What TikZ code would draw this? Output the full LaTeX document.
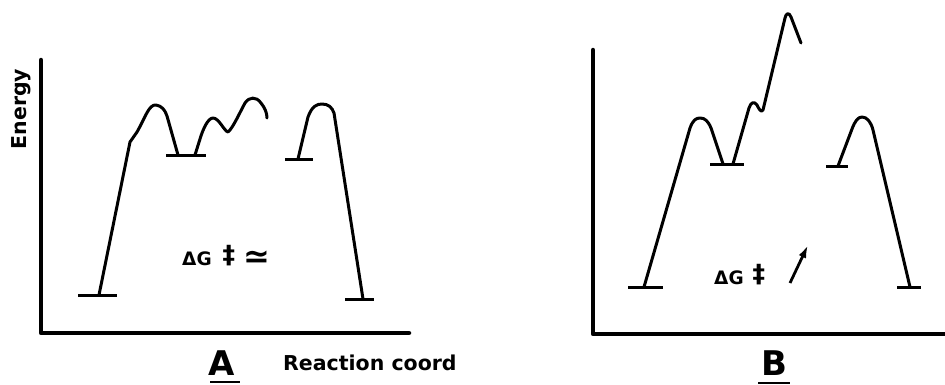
\documentclass[tikz,border=0pt]{standalone}
\usepackage{fontspec}
\setmainfont{DejaVu Sans}
\usetikzlibrary{arrows.meta}
\tikzset{
  axis/.style={line width=4.5pt, line join=round, line cap=round},
  curve/.style={line width=3pt, line join=round, line cap=round},
  level/.style={line width=3pt},
  lbl/.style={inner sep=0pt, font=\bfseries\fontsize{20.5}{20.5}\selectfont},
  big/.style={inner sep=0pt, font=\bfseries\fontsize{34}{34}\selectfont},
  dg/.style={inner sep=0pt, anchor=west, font=\bfseries\fontsize{18.5}{18.5}\selectfont},
  uline/.style={line width=2.2pt}
}
\begin{document}
\begin{tikzpicture}[x=1pt,y=-1pt]
\useasboundingbox (0,0) rectangle (945,384);
% ---------- Panel A ----------
\coordinate (aTop) at (41,60);
\coordinate (aOrig) at (41,333);
\coordinate (aEnd) at (409,333);
\draw[axis] (aTop) -- (aOrig) -- (aEnd);
\node[lbl, rotate=90] (energy) at (21,109) {Energy};
% levels
\draw[level] (78,295) -- (117,295);
\draw[level] (166,155) -- (206,155);
\draw[level] (285,159) -- (313,159);
\draw[level] (345,299) -- (374,299);
% curves
\draw[curve] (99,295) -- (130,142) -- (137,132)
  .. controls (145,118) and (149,104) .. (156,105)
  .. controls (162,106) and (165,110) .. (167,116) -- (178,155);
\draw[curve] (195,155) -- (200,139)
  .. controls (203,129) and (208,118) .. (213,118)
  .. controls (219,118) and (224,131) .. (228,132)
  .. controls (233,128) and (240,112) .. (245,103)
  .. controls (249,97) and (256,96) .. (261,103)
  .. controls (265,108) and (267,113) .. (267,118);
\draw[curve] (298,159) -- (308,117)
  .. controls (312,106) and (317,104) .. (322,104)
  .. controls (328,104) and (332,107) .. (334,113) -- (363,299);
% labels
\node[dg] (dgA) at (182,256) {ΔG\hspace{11pt}\raisebox{2pt}{\fontsize{25}{25}\selectfont ‡}\hspace{8pt}\raisebox{-2pt}{\fontsize{32}{32}\selectfont ≃}};
\node[big] (labA) at (222,363) {A};
\coordinate (uA1) at (210,382);
\coordinate (uA2) at (240,382);
\draw[uline] (uA1) -- (uA2);
\node[lbl, anchor=west] (rc) at (283,363) {Reaction coord};
% ---------- Panel B ----------
\coordinate (bTop) at (593,50);
\coordinate (bOrig) at (593,334);
\coordinate (bEnd) at (946,334);
\draw[axis] (bTop) -- (bOrig) -- (bEnd);
% levels
\draw[level] (628,287) -- (663,287);
\draw[level] (710,164) -- (744,164);
\draw[level] (826,166) -- (848,166);
\draw[level] (897,287) -- (921,287);
% curves
\draw[curve] (644,287) -- (690,128)
  .. controls (693,120) and (696,118) .. (700,118)
  .. controls (705,118) and (708,121) .. (711,128) -- (723,164);
\draw[curve] (733,164) -- (749,108)
  .. controls (751,102) and (754,101) .. (757,105)
  .. controls (759,109) and (761,113) .. (763,110)
  -- (785,18)
  .. controls (786,13) and (789,12) .. (791,17) -- (801,43);
\draw[curve] (838,166) -- (852,129)
  .. controls (855,121) and (858,117) .. (862,117)
  .. controls (867,117) and (871,122) .. (873,130) -- (910,287);
% labels
\node[dg] (dgB) at (714,275) {ΔG\hspace{9pt}\raisebox{2pt}{\fontsize{25}{25}\selectfont ‡}};
\coordinate (arrS) at (790,283);
\coordinate (arrE) at (808,245);
\draw[line width=2.8pt, -{Latex[length=13pt,width=8pt]}] (arrS) -- (arrE);
\node[big] (labB) at (774,363) {B};
\coordinate (uB1) at (758,383);
\coordinate (uB2) at (790,383);
\draw[uline] (uB1) -- (uB2);
\end{tikzpicture}
\end{document}
